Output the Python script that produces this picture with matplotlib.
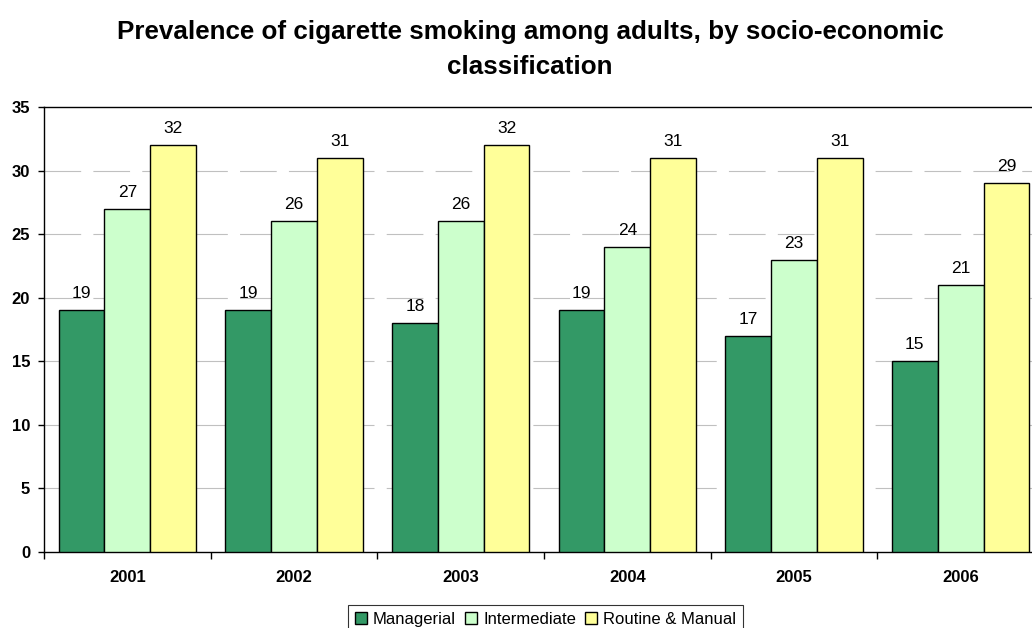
import matplotlib
matplotlib.use("Agg")
import matplotlib.pyplot as plt
import numpy as np

years = ["2001", "2002", "2003", "2004", "2005", "2006"]
managerial = [19, 19, 18, 19, 17, 15]
intermediate = [27, 26, 26, 24, 23, 21]
routine = [32, 31, 32, 31, 31, 29]
series_names = ["Managerial", "Intermediate", "Routine & Manual"]
colors = ["#339966", "#CCFFCC", "#FFFF99"]

plt.rcParams['font.family'] = ['Liberation Sans', 'DejaVu Sans']

fig = plt.figure(figsize=(10.32, 6.28), dpi=100)
ax = fig.add_axes([44/1032, 76/628, 1000/1032, 445/628])

x = np.arange(len(years)) + 0.5
bw = 0.275
for k, (vals, name, c) in enumerate(zip([managerial, intermediate, routine], series_names, colors)):
    pos = x + (k - 1) * bw
    ax.bar(pos, vals, width=bw, color=c, edgecolor="black", linewidth=1.0, label=name, zorder=3)
    for p, v in zip(pos, vals):
        ax.annotate(str(v), (p, v), xytext=(0, 8.6), textcoords="offset points",
                    ha="center", va="baseline", fontsize=12.5)

ax.set_xlim(0, 6)
ax.set_ylim(0, 35)
ax.set_yticks(range(0, 36, 5))
ax.set_yticklabels([str(v) for v in range(0, 36, 5)], fontsize=12, fontweight="bold")
ax.set_xticks(np.arange(0, 7))
ax.set_xticklabels([])
ax.set_xticks(x, minor=True)
ax.set_xticklabels(years, minor=True, fontsize=12, fontweight="bold")
ax.tick_params(axis="x", which="minor", length=0, pad=13)
ax.tick_params(axis="x", which="major", length=5, direction="out", width=1)
ax.tick_params(axis="y", length=4, direction="out", width=1, pad=6)

for yv in range(5, 35, 5):
    ax.axhline(yv, color="#c0c0c0", linewidth=0.8, linestyle=(0, (33, 11)), zorder=1)

for s in ax.spines.values():
    s.set_color("black")
    s.set_linewidth(1.0)

fig.text(530/1032, 1 - 49.5/628, "Prevalence of cigarette smoking among adults, by socio-economic\nclassification",
         ha="center", va="center", fontsize=18.7, fontweight="bold", linespacing=1.55)

leg = fig.legend(loc="upper left", bbox_to_anchor=(348/1032, 1 - 605/628), ncol=3, fontsize=12,
                 frameon=True, fancybox=False, edgecolor="black", handlelength=0.72, handleheight=0.72,
                 handletextpad=0.36, columnspacing=0.55, borderpad=0.42, borderaxespad=0)
leg.get_frame().set_linewidth(0.8)
for h in leg.legend_handles:
    h.set_edgecolor("black")

fig.savefig("out.png", dpi=100)
